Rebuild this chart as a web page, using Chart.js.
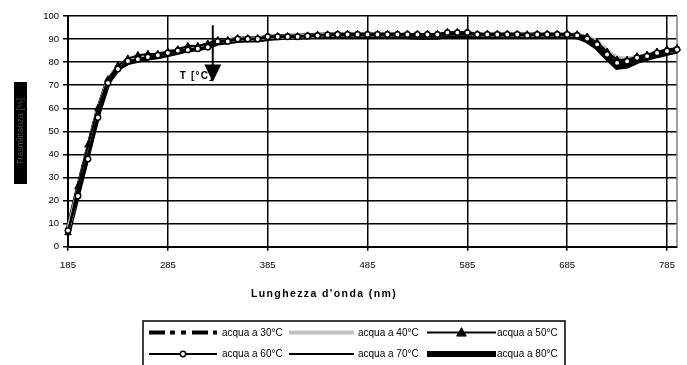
<!DOCTYPE html>
<html><head><meta charset="utf-8">
<script src="https://cdn.jsdelivr.net/npm/chart.js@4.4.0/dist/chart.umd.min.js"></script>
<style>html,body{margin:0;padding:0;background:#fff;overflow:hidden}</style>
</head><body>
<canvas id="c" width="687" height="365"></canvas>
<script>
// ---- data ----
const wavelengths = [185,195,205,215,225,235,245,255,265,275,
  285,295,305,315,325,335,345,355,365,375,
  385,395,405,415,425,435,445,455,465,475,
  485,495,505,515,525,535,545,555,565,575,
  585,595,605,615,625,635,645,655,665,675,
  685,695,705,715,725,735,745,755,765,775,
  785,795];
const tickLabels = ['185','285','385','485','585','685','785'];
const seriesNames = ['acqua a 30°C','acqua a 40°C','acqua a 50°C','acqua a 60°C','acqua a 70°C','acqua a 80°C'];
const xTitle = "Lunghezza d'onda (nm)";
const yTitle = 'Trasmittanza [%]';
const annotationText = 'T [°C]';

const t30 = [7,25,43,59.5,72,78,81,82.2,83,83.3,
  84.3,85.3,86.5,86.7,87.6,89.3,89.4,90.2,90.2,90.2,
  91.1,91.1,91.1,91.1,91.4,91.7,91.9,92.1,92.1,92.1,
  92.1,92.1,92.1,92,91.9,91.8,91.8,91.8,92.6,92.6,
  92.6,92.1,92.1,92.1,92.1,92.1,91.8,92.1,92.1,92.1,
  92.1,91.9,90.8,88.8,84.8,81.5,81.2,82.3,83,84.2,
  85,85.6];
const t40 = [7.2,24.5,42,59,72,78.2,81,82,82.8,83.3,
  84.2,85.2,86.2,86.5,87.3,89.2,89.3,90.1,90.1,90.1,
  91,91,91.1,91.1,91.4,91.6,91.9,92,92,92,
  92,92,92,91.9,91.8,91.7,91.7,91.7,92.5,92.5,
  92.5,92,92,92,92,92,91.7,92,92,92,
  92,91.8,91,89,85,82,81.5,82.3,83,84,
  84.8,85.4];
const t50 = [6,26,44,60,72.5,78.5,81.5,83,83.5,83.5,
  84.5,85.5,87,87,88,89.5,89.5,90.3,90.3,90.3,
  91.2,91.2,91.2,91.2,91.5,91.8,92,92.2,92.2,92.2,
  92.2,92.2,92.2,92.2,92.2,92.2,92.2,92.2,93,93,
  93,92.2,92.2,92.2,92.2,92.2,92,92.2,92.2,92.2,
  92.2,92,91,88.5,84.5,81,81,82.5,83.2,84.5,
  85.5,86];
const t60 = [7,22,38,56,71,77,80.5,81.3,82.2,83,
  84,85,85.3,85.8,86.5,89,89,90,90,90,
  91,91,91,91,91.3,91.5,91.8,92,92,92,
  92,92,92,92,92,92,92,92,92.8,92.8,
  92.8,92,92,92,92,92,91.6,92,92,92,
  92,91.6,90.2,87.7,83.3,79.7,80.4,81.9,82.6,84,
  84.8,85.5];
const t70 = [6.8,23,40,57,71,77.2,80.2,81.2,82,82.8,
  83.8,84.8,85.5,86,86.7,88.8,89,89.8,89.9,89.9,
  90.8,90.9,91,91,91.2,91.5,91.7,91.8,91.8,91.8,
  91.8,91.8,91.8,91.6,91.4,91.2,91.2,91.2,92.2,92.2,
  92.2,91.8,91.8,91.8,91.8,91.8,91.5,91.8,91.8,91.8,
  91.8,91.4,90,87.2,82.8,79,79.5,81.2,82.2,83.5,
  84.4,85.2];
const t80 = [6.5,24,41,58,71.5,77.5,80,81,82,82.5,
  83.5,84.5,85.5,86,86.8,88.5,89,89.6,89.8,89.8,
  90.5,90.8,91,91,91.2,91.4,91.6,91.6,91.6,91.6,
  91.6,91.6,91.6,91.4,91.2,91,91,91,91.8,91.8,
  91.8,91.6,91.6,91.6,91.6,91.6,91.4,91.6,91.6,91.6,
  91.6,91.2,89.5,86.5,82,78,78.5,80.5,81.8,83,
  84,85];

const FONT = "'Liberation Sans', Arial, sans-serif";

// ---- plugins ----
const decor = {
  id: 'decor',
  beforeDraw(chart) {
    const c = chart.ctx;
    c.save();
    c.fillStyle = '#fff';
    c.fillRect(0, 0, chart.width, chart.height);
    c.fillStyle = '#000';
    c.fillRect(14, 82, 13, 102);
    c.restore();
  },
  beforeDatasetsDraw(chart) {
    const a = chart.chartArea, c = chart.ctx;
    c.save();
    c.strokeStyle = '#808080';
    c.lineWidth = 1.5;
    c.beginPath();
    c.moveTo(a.right, a.top);
    c.lineTo(a.right, a.bottom);
    c.stroke();
    c.restore();
  },
  afterDraw(chart) {
    const c = chart.ctx;
    const xs = chart.scales.x, ys = chart.scales.y;
    c.save();
    // x axis title
    c.fillStyle = '#000';
    c.font = "bold 10.5px " + FONT;
    c.letterSpacing = '1.4px';
    c.textAlign = 'center';
    c.textBaseline = 'middle';
    c.fillText(xTitle, 324, 294);
    // annotation arrow
    const ax = (xs.getPixelForValue(14) + xs.getPixelForValue(15)) / 2;
    const yTop = ys.getPixelForValue(96), yHead = ys.getPixelForValue(79), yTip = ys.getPixelForValue(71.5);
    c.font = "bold 10px " + FONT;
    c.letterSpacing = '1.2px';
    c.textAlign = 'right';
    c.fillText(annotationText, ax + 1, 76);
    c.letterSpacing = '0px';
    c.strokeStyle = '#000';
    c.lineWidth = 2;
    c.beginPath(); c.moveTo(ax, yTop); c.lineTo(ax, yHead + 2); c.stroke();
    c.beginPath(); c.moveTo(ax - 8.5, yHead); c.lineTo(ax + 8.5, yHead); c.lineTo(ax, yTip); c.closePath(); c.fill();
    // legend
    c.lineWidth = 1.5;
    c.strokeRect(143, 321, 422, 60);
    const sx = [[149, 217], [289, 354], [427, 496]];
    const tx = [222, 358, 497];
    const ry = [332.5, 354];
    c.font = "10px " + FONT;
    c.textAlign = 'left';
    chart.data.datasets.forEach((ds, i) => {
      const col = i % 3, row = Math.floor(i / 3);
      const y = ry[row];
      c.save();
      c.strokeStyle = ds.borderColor;
      c.lineWidth = ds.borderWidth;
      c.setLineDash(ds.borderDash || []);
      c.beginPath(); c.moveTo(sx[col][0], y); c.lineTo(sx[col][1], y); c.stroke();
      c.setLineDash([]);
      const mx = (sx[col][0] + sx[col][1]) / 2;
      if (ds.pointRadius > 0) {
        c.fillStyle = ds.pointBackgroundColor;
        c.strokeStyle = ds.pointBorderColor;
        c.lineWidth = ds.pointBorderWidth;
        if (ds.pointStyle === 'triangle') {
          const r = ds.pointRadius + 1;
          c.beginPath(); c.moveTo(mx, y - r); c.lineTo(mx + r, y + r * 0.75); c.lineTo(mx - r, y + r * 0.75); c.closePath(); c.fill(); c.stroke();
        } else {
          c.beginPath(); c.arc(mx, y, ds.pointRadius, 0, Math.PI * 2); c.fill(); c.stroke();
        }
      }
      c.restore();
      c.fillStyle = '#000';
      c.fillText(seriesNames[i], tx[col], y + 0.5);
    });
    c.restore();
  }
};

const labelSet = new Set(tickLabels);
const isLabelled = (ctx) => labelSet.has(String(wavelengths[ctx.index]));

new Chart(document.getElementById('c'), {
  type: 'line',
  data: {
    labels: wavelengths.map(String),
    datasets: [
      { label: seriesNames[0], data: t30, borderColor: '#000', borderWidth: 4, borderDash: [16, 5, 5, 6, 5, 6], pointRadius: 0, order: 5 },
      { label: seriesNames[1], data: t40, borderColor: '#c0c0c0', borderWidth: 4, pointRadius: 0, order: 4 },
      { label: seriesNames[2], data: t50, borderColor: '#000', borderWidth: 2, pointStyle: 'triangle', pointRadius: 3.8, pointBackgroundColor: '#000', pointBorderColor: '#000', pointBorderWidth: 1, order: 2 },
      { label: seriesNames[3], data: t60, borderColor: '#000', borderWidth: 2, pointStyle: 'circle', pointRadius: 2.7, pointBackgroundColor: '#fff', pointBorderColor: '#000', pointBorderWidth: 1.5, order: 1 },
      { label: seriesNames[4], data: t70, borderColor: '#000', borderWidth: 2, pointRadius: 0, order: 3 },
      { label: seriesNames[5], data: t80, borderColor: '#000', borderWidth: 6, pointRadius: 0, order: 6 }
    ]
  },
  options: {
    responsive: false,
    animation: false,
    devicePixelRatio: 1,
    layout: { padding: { top: 16, right: 10, bottom: 65, left: 0 } },
    plugins: { legend: { display: false }, tooltip: { enabled: false } },
    elements: { line: { tension: 0 } },
    scales: {
      x: {
        type: 'category',
        offset: false,
        afterFit(s) { s.height = 53.3; s.paddingLeft = 0; s.paddingRight = 0; },
        border: { display: true, color: '#000', width: 2 },
        grid: {
          color: (ctx) => isLabelled(ctx) && ctx.index > 0 ? '#000' : 'rgba(0,0,0,0)',
          tickColor: (ctx) => isLabelled(ctx) ? '#000' : 'rgba(0,0,0,0)',
          lineWidth: 1.5,
          drawTicks: true,
          tickLength: 4
        },
        ticks: {
          autoSkip: false,
          maxRotation: 0,
          minRotation: 0,
          padding: 9,
          color: '#000',
          font: { family: FONT, size: 9.5 },
          callback: (v, i) => labelSet.has(String(wavelengths[i])) ? String(wavelengths[i]) : ''
        }
      },
      y: {
        min: 0, max: 100,
        afterFit(s) { s.width = 68; s.paddingTop = 0; s.paddingBottom = 0; },
        border: { display: true, color: '#000', width: 2 },
        grid: { color: '#000', lineWidth: 1.5, drawTicks: true, tickLength: 5, tickColor: '#000' },
        ticks: { stepSize: 10, padding: 4, color: '#000', font: { family: FONT, size: 9.5 } },
        title: { display: true, text: yTitle, color: '#4a4a4a', font: { family: FONT, size: 9 }, padding: { top: 15, bottom: 0 } }
      }
    }
  },
  plugins: [decor]
});
</script>
</body></html>
